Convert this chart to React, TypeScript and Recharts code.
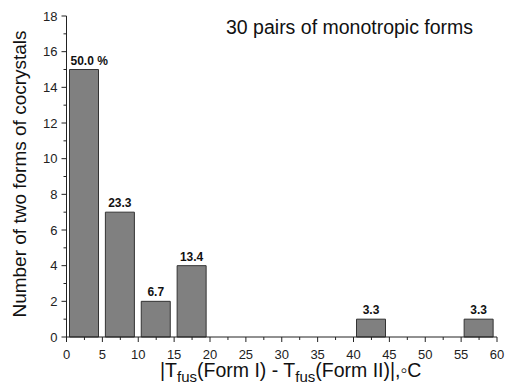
import { BarChart, Bar, XAxis, YAxis, LabelList } from "recharts";

// histogram bins (bin centre, °C) and counts
const binCenters = [2.5, 7.5, 12.5, 17.5, 42.5, 57.5];
const counts = [15, 7, 2, 4, 1, 1];
const percentLabels = ["50.0 %", "23.3", "6.7", "13.4", "3.3", "3.3"];

const xMajorTicks = [0, 5, 10, 15, 20, 25, 30, 35, 40, 45, 50, 55, 60];
const yTicks = [0, 1, 2, 3, 4, 5, 6, 7, 8, 9, 10, 11, 12, 13, 14, 15, 16, 17, 18];

const title = "30 pairs of monotropic forms";
const yTitle = "Number of two forms of cocrystals";

const font = "Arial, 'Liberation Sans', sans-serif";

const data = binCenters.map((x, i) => ({
  x,
  count: counts[i],
  pct: percentLabels[i],
}));

// major ticks plus minor ones halfway between
const xTicks: number[] = [];
xMajorTicks.forEach((t, i) => {
  xTicks.push(t);
  if (i < xMajorTicks.length - 1) xTicks.push((t + xMajorTicks[i + 1]) / 2);
});

const XTick = (props: any) => {
  const { x, y, payload } = props;
  const major = payload.value % 5 === 0;
  return (
    <g>
      <line x1={x} x2={x} y1={y} y2={y + (major ? 5 : 3)} stroke="#222" />
      {major && (
        <text x={x} y={y + 22} textAnchor="middle" fontSize={13} fill="#222" fontFamily={font}>
          {payload.value}
        </text>
      )}
    </g>
  );
};

const YTick = (props: any) => {
  const { x, y, payload } = props;
  const major = payload.value % 2 === 0;
  return (
    <g>
      <line x1={x} x2={x - (major ? 5 : 3)} y1={y} y2={y} stroke="#222" />
      {major && (
        <text x={x - 9} y={y + 4.5} textAnchor="end" fontSize={13} fill="#222" fontFamily={font}>
          {payload.value}
        </text>
      )}
    </g>
  );
};

// the "%" label sits left-aligned on its bar, the rest are centred
const BarLabel = (props: any) => {
  const { x, y, width, value } = props;
  const withPct = String(value).includes("%");
  return (
    <text
      x={withPct ? x + 1 : x + width / 2}
      y={y - 5}
      textAnchor={withPct ? "start" : "middle"}
      fontSize={12}
      fontWeight="bold"
      fill="#111"
      fontFamily={font}
    >
      {value}
    </text>
  );
};

const XTitle = () => (
  <text x={160} y={377} fontSize={19.5} fill="#111" fontFamily={font}>
    <tspan>|T</tspan>
    <tspan fontSize={15} dy={5}>fus</tspan>
    <tspan dy={-5}>(Form I) - T</tspan>
    <tspan fontSize={15} dy={5}>fus</tspan>
    <tspan dy={-5}>(Form II)|,◦C</tspan>
  </text>
);

const YTitle = () => (
  <text
    x={25.5}
    y={174}
    transform="rotate(-90 25.5 174)"
    textAnchor="middle"
    fontSize={19}
    fill="#111"
    fontFamily={font}
  >
    {yTitle}
  </text>
);

export default function App() {
  return (
    <div style={{ position: "absolute", left: 0, top: 0, background: "#fff" }}>
      <BarChart
        width={510}
        height={384}
        data={data}
        margin={{ top: 16, right: 13, left: 0, bottom: 0 }}
      >
        <XAxis
          dataKey="x"
          type="number"
          domain={[0, 60]}
          ticks={xTicks}
          interval={0}
          height={47}
          tickSize={0}
          tickMargin={0}
          tick={<XTick />}
          axisLine={{ stroke: "#222" }}
          tickLine={false}
          label={<XTitle />}
        />
        <YAxis
          type="number"
          domain={[0, 18]}
          ticks={yTicks}
          interval={0}
          width={66.5}
          tickSize={0}
          tickMargin={0}
          tick={<YTick />}
          axisLine={{ stroke: "#222" }}
          tickLine={false}
          label={<YTitle />}
        />
        <Bar
          dataKey="count"
          barSize={29}
          fill="#808080"
          stroke="#333"
          strokeWidth={1}
          isAnimationActive={false}
        >
          <LabelList dataKey="pct" content={<BarLabel />} />
        </Bar>
        <text x={226} y={34} fontSize={19.5} fill="#111" fontFamily={font}>
          {title}
        </text>
      </BarChart>
    </div>
  );
}
